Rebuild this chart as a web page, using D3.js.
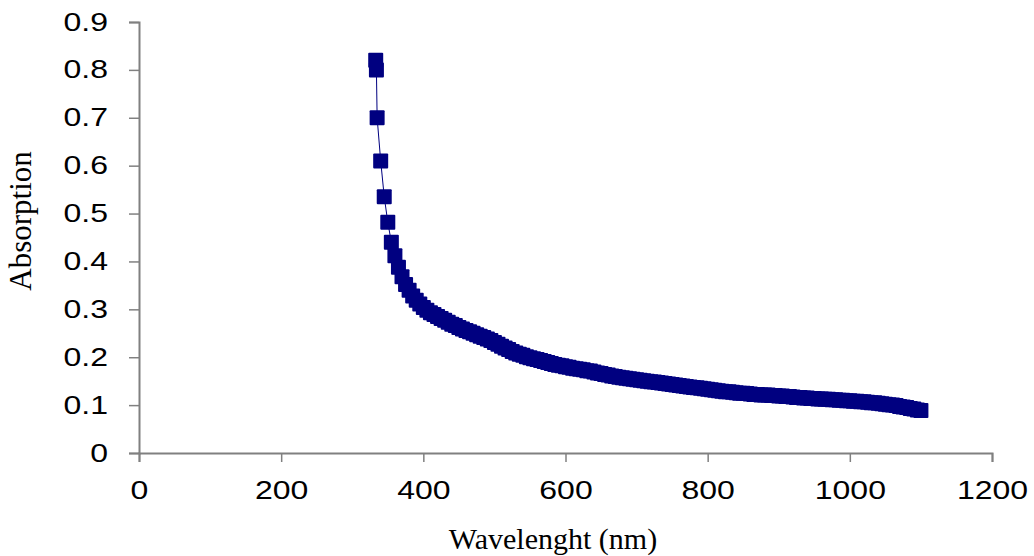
<!DOCTYPE html>
<html>
<head>
<meta charset="utf-8">
<script src="https://cdn.jsdelivr.net/npm/d3@7"></script>
<style>
  body { margin: 0; background: #fff; }
  svg { display: block; }
</style>
</head>
<body>
<svg id="chart" width="1034" height="556"></svg>
<script>
// wavelength (nm)
const wavelengths = [333, 334,
  335, 340, 345, 350, 355, 360, 365, 370, 375, 380, 385, 390, 395, 400,
  405, 410, 415, 420, 425, 430, 435, 440, 445, 450, 455, 460, 465, 470, 475, 480,
  485, 490, 495, 500, 505, 510, 515, 520, 525, 530, 535, 540, 545, 550, 555, 560,
  565, 570, 575, 580, 585, 590, 595, 600, 605, 610, 615, 620, 625, 630, 635, 640,
  645, 650, 655, 660, 665, 670, 675, 680, 685, 690, 695, 700, 705, 710, 715, 720,
  725, 730, 735, 740, 745, 750, 755, 760, 765, 770, 775, 780, 785, 790, 795, 800,
  805, 810, 815, 820, 825, 830, 835, 840, 845, 850, 855, 860, 865, 870, 875, 880,
  885, 890, 895, 900, 905, 910, 915, 920, 925, 930, 935, 940, 945, 950, 955, 960,
  965, 970, 975, 980, 985, 990, 995, 1000, 1005, 1010, 1015, 1020, 1025, 1030, 1035, 1040,
  1045, 1050, 1055, 1060, 1065, 1070, 1075, 1080, 1085, 1090, 1095, 1100]

// absorption
const absorption = [0.82, 0.80,
  0.70, 0.61, 0.535, 0.482, 0.44, 0.412, 0.388, 0.368, 0.352, 0.340, 0.328, 0.319, 0.311, 0.304,
  0.298, 0.293, 0.289, 0.285, 0.281, 0.277, 0.273, 0.269, 0.266, 0.262, 0.259, 0.256, 0.253, 0.250, 0.247, 0.244,
  0.241, 0.238, 0.235, 0.231, 0.227, 0.223, 0.219, 0.216, 0.212, 0.209, 0.206, 0.204, 0.201, 0.199, 0.197, 0.195,
  0.193, 0.191, 0.189, 0.187, 0.185, 0.183, 0.182, 0.180, 0.179, 0.177, 0.176, 0.175, 0.174, 0.172, 0.171, 0.169,
  0.167, 0.166, 0.164, 0.163, 0.161, 0.160, 0.158, 0.157, 0.156, 0.155, 0.154, 0.153, 0.152, 0.151, 0.150, 0.149,
  0.148, 0.147, 0.146, 0.145, 0.144, 0.143, 0.142, 0.141, 0.140, 0.139, 0.138, 0.137, 0.136, 0.135, 0.134, 0.133,
  0.132, 0.131, 0.130, 0.129, 0.128, 0.128, 0.127, 0.126, 0.125, 0.125, 0.124, 0.123, 0.122, 0.122, 0.121, 0.121,
  0.121, 0.120, 0.120, 0.119, 0.119, 0.118, 0.118, 0.117, 0.116, 0.116, 0.115, 0.115, 0.114, 0.114, 0.113, 0.113,
  0.112, 0.112, 0.111, 0.111, 0.110, 0.110, 0.109, 0.109, 0.108, 0.108, 0.107, 0.107, 0.106, 0.105, 0.105, 0.104,
  0.103, 0.102, 0.101, 0.100, 0.099, 0.097, 0.096, 0.095, 0.093, 0.092, 0.090, 0.089]

const xTicks = [0, 200, 400, 600, 800, 1000, 1200]
const yTicks = [0, 0.1, 0.2, 0.3, 0.4, 0.5, 0.6, 0.7, 0.8, 0.9]

const xTitle = 'Wavelenght (nm)'
const yTitle = 'Absorption'

const data = wavelengths.map((w, i) => ({ x: w, y: absorption[i] }))

const svg = d3.select('#chart')
const margin = { top: 22, right: 42, bottom: 103, left: 139 }
const width = 1034, height = 556

const x = d3.scaleLinear().domain([0, 1200]).range([margin.left, width - margin.right])
const y = d3.scaleLinear().domain([0, 0.9]).range([height - margin.bottom, margin.top])

const axisColor = '#808080'
const sans = '"Liberation Sans", Arial, sans-serif'
const serif = '"Liberation Serif", "Times New Roman", serif'

// the tick labels in the picture are drawn wider than normal
const widen = sel => sel.each(function () {
    const len = this.getComputedTextLength()
    d3.select(this).attr('textLength', len * 1.28).attr('lengthAdjust', 'spacingAndGlyphs')
})

// y axis
const gy = svg.append('g')
    .attr('transform', `translate(${margin.left},0)`)
    .call(d3.axisLeft(y).tickValues(yTicks).tickSize(10).tickPadding(21)
        .tickFormat(d => d === 0 ? '0' : d3.format('.1f')(d)))
gy.select('.domain').attr('stroke', axisColor).attr('stroke-width', 2)
gy.selectAll('.tick line').attr('stroke', axisColor).attr('stroke-width', 1.5)
gy.selectAll('.tick text').attr('font-family', sans).attr('font-size', 25).attr('fill', '#000').call(widen)

// x axis
const gx = svg.append('g')
    .attr('transform', `translate(0,${height - margin.bottom})`)
    .call(d3.axisBottom(x).tickValues(xTicks).tickSize(9).tickPadding(19).tickFormat(d3.format('d')))
gx.select('.domain').attr('stroke', axisColor).attr('stroke-width', 2)
gx.selectAll('.tick line').attr('stroke', axisColor).attr('stroke-width', 1.5)
gx.selectAll('.tick text').attr('font-family', sans).attr('font-size', 25).attr('fill', '#000').call(widen)

// titles
svg.append('text')
    .attr('x', 553)
    .attr('y', 549)
    .attr('text-anchor', 'middle')
    .attr('font-family', serif)
    .attr('font-size', 30)
    .text(xTitle)

svg.append('text')
    .attr('transform', `translate(31,221) rotate(-90)`)
    .attr('text-anchor', 'middle')
    .attr('font-family', serif)
    .attr('font-size', 31)
    .text(yTitle)

// series
const navy = '#000080'
svg.append('path')
    .datum(data)
    .attr('fill', 'none')
    .attr('stroke', navy)
    .attr('stroke-width', 1)
    .attr('d', d3.line().x(d => x(d.x)).y(d => y(d.y)))

const size = 15
svg.append('g').selectAll('rect').data(data)
    .enter().append('rect')
    .attr('x', d => x(d.x) - size / 2)
    .attr('y', d => y(d.y) - size / 2)
    .attr('width', size)
    .attr('height', size)
    .attr('rx', 1)
    .attr('fill', navy)
</script>
</body>
</html>
